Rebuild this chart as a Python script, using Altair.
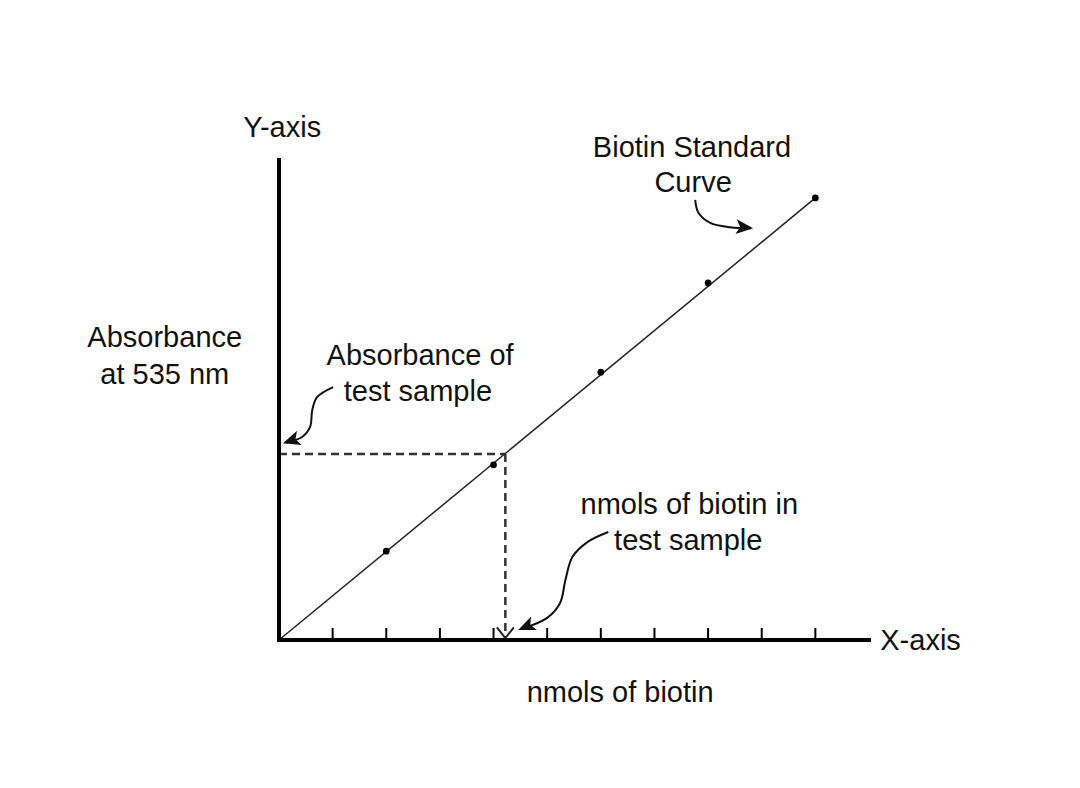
import altair as alt
import pandas as pd

# ---- data ----
std_x = [2, 4, 6, 8, 10]
std_y = [0.185, 0.365, 0.558, 0.744, 0.921]
fit_x = [0, 10]
fit_y = [0.0, 0.921]
test_x = 4.22
test_y = 0.3875
tick_x = [1, 2, 3, 4, 5, 6, 7, 8, 9, 10]
tick_top = 0.025
x_max = 11
y_max = 1.0

label_text = ["Y-axis", "Absorbance", "at 535 nm", "Absorbance of", "test sample",
              "Biotin Standard", "Curve", "nmols of biotin in", "test sample",
              "X-axis", "nmols of biotin"]
label_x = [0.06, -2.13, -2.13, 2.63, 2.59, 7.70, 7.72, 7.65, 7.63, 11.21, 6.36]
label_y = [1.067, 0.629, 0.552, 0.592, 0.517, 1.025, 0.952, 0.281, 0.206, -0.002, -0.110]
label_align = ["center", "center", "center", "center", "center", "center", "center",
               "center", "center", "left", "center"]

arrow_id = ["curve"] * 5 + ["abs"] * 6 + ["nmol"] * 7
arrow_x = [7.76, 7.82, 8.04, 8.41, 8.80,
           1.01, 0.71, 0.62, 0.58, 0.43, 0.12,
           6.14, 5.75, 5.47, 5.34, 5.24, 5.00, 4.52]
arrow_y = [0.917, 0.890, 0.869, 0.860, 0.858,
           0.527, 0.506, 0.479, 0.444, 0.423, 0.411,
           0.225, 0.204, 0.173, 0.125, 0.077, 0.046, 0.023]
head_x = [8.84, 0.075, 4.46]
head_y = [0.858, 0.410, 0.021]
head_angle = [95, 252, 247]

# ---- tables ----
std = pd.DataFrame({"x": std_x, "y": std_y})
fit = pd.DataFrame({"x": fit_x, "y": fit_y})
ticks = pd.DataFrame({"x": tick_x, "y": [0] * len(tick_x), "y2": [tick_top] * len(tick_x)})
axes = pd.DataFrame({"x": [0, 0], "y": [0, 0], "x2": [x_max, 0], "y2": [0, y_max]})
hdash = pd.DataFrame({"x": [0], "x2": [test_x], "y": [test_y]})
vdash = pd.DataFrame({"x": [test_x], "y": [test_y], "y2": [0.004]})
vhead = pd.DataFrame({"x": [test_x], "y": [0.004], "a": [180]})
labels = pd.DataFrame({"t": label_text, "x": label_x, "y": label_y, "al": label_align})
arrows = pd.DataFrame({"id": arrow_id, "x": arrow_x, "y": arrow_y,
                       "o": list(range(len(arrow_x)))})
heads = pd.DataFrame({"x": head_x, "y": head_y, "a": head_angle})

xs = alt.Scale(domain=[0, x_max], nice=False, zero=False)
ys = alt.Scale(domain=[0, y_max], nice=False, zero=False)
X = alt.X("x:Q", scale=xs, axis=None)
Y = alt.Y("y:Q", scale=ys, axis=None)

FONT = "Liberation Sans"
FS = 29

axis_layer = alt.Chart(axes).mark_rule(color="black", strokeWidth=4, strokeCap="square").encode(
    x=X, y=Y, x2="x2:Q", y2="y2:Q")
tick_layer = alt.Chart(ticks).mark_rule(color="black", strokeWidth=2).encode(
    x=X, y=Y, y2="y2:Q")
fit_layer = alt.Chart(fit).mark_line(color="#222", strokeWidth=1.5).encode(x=X, y=Y)
pts_layer = alt.Chart(std).mark_point(filled=True, color="black", size=45, opacity=1).encode(x=X, y=Y)
hdash_layer = alt.Chart(hdash).mark_rule(color="#333", strokeWidth=2.5, strokeDash=[8, 5]).encode(
    x=X, x2="x2:Q", y=Y)
vdash_layer = alt.Chart(vdash).mark_rule(color="#333", strokeWidth=2.5, strokeDash=[8, 5]).encode(
    x=X, y=Y, y2="y2:Q")
vhead_layer = alt.Chart(vhead).mark_point(
    shape="M-0.8,1 L0,0 L0.8,1", filled=False, color="#222", strokeWidth=2, size=450, opacity=1
).encode(x=X, y=Y, angle=alt.Angle("a:Q", scale=None))
arrow_layer = alt.Chart(arrows).mark_line(color="#111", strokeWidth=2, interpolate="catmull-rom").encode(
    x=X, y=Y, detail="id:N", order="o:Q")
head_layer = alt.Chart(heads).mark_point(
    shape="M0,0 L0.65,1.5 L0,1.15 L-0.65,1.5 Z", filled=True, color="#111", size=520, opacity=1
).encode(x=X, y=Y, angle=alt.Angle("a:Q", scale=None))

text_left = alt.Chart(labels).transform_filter(alt.datum.al == "left").mark_text(
    font=FONT, fontSize=FS, color="#111", align="left", baseline="middle"
).encode(x=X, y=Y, text="t:N")
text_center = alt.Chart(labels).transform_filter(alt.datum.al == "center").mark_text(
    font=FONT, fontSize=FS, color="#111", align="center", baseline="middle"
).encode(x=X, y=Y, text="t:N")

chart = alt.layer(
    hdash_layer, vdash_layer, vhead_layer, fit_layer, pts_layer, tick_layer, axis_layer,
    arrow_layer, head_layer, text_left, text_center
).properties(
    width=590, height=480,
    autosize=alt.AutoSizeParams(type="none"),
    padding={"left": 271, "top": 152, "right": 203, "bottom": 140},
    background="white",
).configure_view(stroke=None)

chart.save("out.html", embed_options={"renderer": "svg", "actions": False})
